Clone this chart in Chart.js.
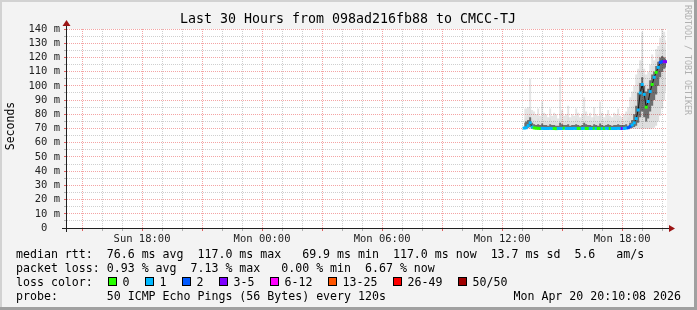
<!DOCTYPE html>
<html>
<head>
<meta charset="utf-8">
<script src="https://cdn.jsdelivr.net/npm/chart.js@4.4.1/dist/chart.umd.min.js"></script>
<style>
  html, body { margin: 0; padding: 0; background: #f3f3f3; }
  canvas { display: block; }
</style>
</head>
<body>
<canvas id="rtt" width="697" height="310"></canvas>
<script>
// x values are hours counted from Mon 00:00, one sample every 6 minutes
const hours = [
  13.1, 13.2, 13.3, 13.4, 13.5, 13.6, 13.7, 13.8, 13.9, 14.0,
  14.1, 14.2, 14.3, 14.4, 14.5, 14.6, 14.7, 14.8, 14.9, 15.0,
  15.1, 15.2, 15.3, 15.4, 15.5, 15.6, 15.7, 15.8, 15.9, 16.0,
  16.1, 16.2, 16.3, 16.4, 16.5, 16.6, 16.7, 16.8, 16.9, 17.0,
  17.1, 17.2, 17.3, 17.4, 17.5, 17.6, 17.7, 17.8, 17.9, 18.0,
  18.1, 18.2, 18.3, 18.4, 18.5, 18.6, 18.7, 18.8, 18.9, 19.0,
  19.1, 19.2, 19.3, 19.4, 19.5, 19.6, 19.7, 19.8, 19.9, 20.0,
  20.1, 20.2
];

// median rtt in ms
const median = [
  70.3, 70.5, 72, 74, 71, 70.4, 70.2, 70.1, 70, 70.1,
  70, 70, 70, 70.1, 70, 70, 69.9, 70, 70, 70,
  70.2, 70, 70, 70, 70, 70.1, 70, 70, 70, 70,
  70.1, 70, 70, 70, 70, 70.1, 70, 70, 70, 70,
  70, 70.1, 70, 70, 70, 70, 70, 70.1, 70, 70,
  70, 70.3, 70.5, 71.5, 72.5, 74, 77, 83, 95, 101,
  94, 85, 89, 96, 101, 106, 109.5, 113, 116.5, 117,
  117, 117
];

// lost pings out of 50
const loss = [
  1, 1, 1, 1, 1, 0, 0, 0, 0, 1,
  1, 1, 1, 1, 1, 0, 0, 1, 1, 1,
  0, 1, 1, 1, 1, 1, 1, 0, 0, 1,
  1, 0, 0, 1, 1, 0, 1, 0, 0, 1,
  0, 1, 1, 0, 1, 1, 1, 1, 1, 3,
  1, 1, 2, 2, 1, 1, 1, 1, 1, 1,
  1, 0, 1, 1, 0, 1, 0, 1, 2, 2,
  3, 3
];

// smoke: spread of the single pings (max, 90th pct, 75th pct, 25th pct, min)
const smokeMax = [
  84, 84, 85, 105, 83, 82, 80, 84, 79, 89,
  81, 80, 78, 84, 79, 81, 80, 77, 106, 83,
  79, 80, 86, 78, 80, 79, 84, 81, 78, 80,
  92, 82, 79, 81, 78, 85, 80, 79, 89, 81,
  78, 80, 83, 79, 78, 81, 80, 84, 79, 78,
  80, 82, 85, 92, 96, 100, 108, 112, 118, 138,
  112, 108, 110, 115, 122, 118, 126, 128, 134, 140,
  138, 132
];
const smokeP90 = [
  77, 78, 79, 84, 77, 76, 75, 77, 75, 78,
  76, 75, 74.5, 77, 75, 76, 75, 74, 80, 77,
  75, 75, 78, 74.5, 75, 75, 77, 76, 74.5, 75,
  79, 76, 75, 76, 74.5, 78, 75, 75, 79, 76,
  74.5, 75, 77, 75, 74.5, 76, 75, 77, 75, 74.5,
  75, 76, 78, 82, 86, 90, 96, 103, 110, 118,
  108, 102, 104, 109, 114, 114, 119, 122, 126, 128,
  127, 125
];
const smokeHigh = [
  74, 75, 76, 78, 74, 73, 72.5, 73, 72.5, 73.5,
  72.5, 72.5, 72, 73, 72.5, 72.5, 72, 72, 74, 73,
  72.5, 72.5, 73, 72, 72.5, 72.5, 73, 72.5, 72, 72.5,
  74, 73, 72.5, 72.5, 72, 73, 72.5, 72, 73.5, 72.5,
  72, 72.5, 73, 72.5, 72, 72.5, 72.5, 73, 72.5, 72.5,
  72.5, 73, 72, 74, 76, 80, 86, 95, 102, 106,
  100, 96, 98, 104, 108, 110, 114, 117, 120, 121,
  120, 119
];
const smokeLow = [
  70, 70, 70.5, 71, 70, 70, 70, 70, 70, 70,
  70, 70, 70, 70, 70, 70, 70, 70, 70, 70,
  70, 70, 70, 70, 70, 70, 70, 70, 70, 70,
  70, 70, 70, 70, 70, 70, 70, 70, 70, 70,
  70, 70, 70, 70, 70, 70, 70, 70, 70, 70,
  70, 70, 70, 70, 70.5, 71, 72, 74, 78, 82,
  78, 75, 77, 82, 86, 90, 94, 100, 106, 110,
  112, 113
];
const smokeMin = [
  69.8, 69.8, 69.8, 69.8, 69.8, 69.8, 69.8, 69.8, 69.8, 69.8,
  69.8, 69.8, 69.8, 69.8, 69.8, 69.8, 69.8, 69.8, 69.8, 69.8,
  69.8, 69.8, 69.8, 69.8, 69.8, 69.8, 69.8, 69.8, 69.8, 69.8,
  69.8, 69.8, 69.8, 69.8, 69.8, 69.8, 69.8, 69.8, 69.8, 69.8,
  69.8, 69.8, 69.8, 69.8, 69.8, 69.8, 69.8, 69.8, 69.8, 69.8,
  69.8, 69.8, 69.9, 69.9, 69.9, 69.9, 69.9, 69.9, 69.9, 69.9,
  69.9, 69.9, 69.9, 69.9, 70, 70.5, 72, 75, 79, 84,
  90, 96
];

const tickHours = [-6, 0, 6, 12, 18];
const tickLabels = ['Sun 18:00', 'Mon 00:00', 'Mon 06:00', 'Mon 12:00', 'Mon 18:00'];

const lossLabels = ['0', '1', '2', '3-5', '6-12', '13-25', '26-49', '50/50'];
const lossUpper = [0, 1, 2, 5, 12, 25, 49, 50];
const lossColors = ['#26ff00', '#00b8ff', '#0059ff', '#7e00ff', '#ff00ff', '#ff5500', '#ff0000', '#a00000'];

const titleText = 'Last 30 Hours from 098ad216fb88 to CMCC-TJ';
const legendRows = [
  'median rtt:  76.6 ms avg  117.0 ms max   69.9 ms min  117.0 ms now  13.7 ms sd  5.6   am/s',
  'packet loss: 0.93 % avg  7.13 % max   0.00 % min  6.67 % now',
  'loss color:',
  'probe:       50 ICMP Echo Pings (56 Bytes) every 120s'
];
const stampText = 'Mon Apr 20 20:10:08 2026';

function lossColor(n) {
  for (let i = 0; i < lossUpper.length; i++) {
    if (n <= lossUpper[i]) return lossColors[i];
  }
  return lossColors[lossColors.length - 1];
}

function pts(arr) {
  return hours.map((h, i) => ({ x: h, y: arr[i] }));
}

const MONO = '"DejaVu Sans Mono", monospace';
const PINK = '#f4a4a4';
const GREY = '#cfcfcf';

const rrdLook = {
  id: 'rrdLook',
  beforeDraw(chart) {
    const { ctx, width, height, chartArea: a } = chart;
    ctx.save();
    ctx.fillStyle = '#f3f3f3';
    ctx.fillRect(0, 0, width, height);
    ctx.fillStyle = '#d2d2d2';
    ctx.fillRect(0, 0, width, 2);
    ctx.fillRect(0, 0, 2, height);
    ctx.fillStyle = '#a0a0a0';
    ctx.fillRect(0, height - 3, width, 3);
    ctx.fillRect(width - 3, 0, 3, height);
    ctx.fillStyle = '#ffffff';
    ctx.fillRect(a.left, a.top, a.right - a.left, a.bottom - a.top);
    ctx.restore();
  },
  afterDatasetsDraw(chart) {
    const { ctx, chartArea: a } = chart;
    ctx.save();
    // axes
    ctx.fillStyle = '#202020';
    ctx.fillRect(a.left - 5, a.bottom, a.right - a.left + 8, 1);
    ctx.fillRect(a.left - 1, a.top - 4, 1, a.bottom - a.top + 8);
    // arrows
    ctx.fillStyle = '#9b1414';
    ctx.beginPath();
    ctx.moveTo(a.right + 2, a.bottom - 3);
    ctx.lineTo(a.right + 8, a.bottom + 0.5);
    ctx.lineTo(a.right + 2, a.bottom + 4);
    ctx.closePath();
    ctx.fill();
    ctx.beginPath();
    ctx.moveTo(a.left - 4.5, a.top - 3);
    ctx.lineTo(a.left - 0.5, a.top - 9);
    ctx.lineTo(a.left + 3.5, a.top - 3);
    ctx.closePath();
    ctx.fill();
    ctx.restore();
  },
  afterDraw(chart) {
    const { ctx, width } = chart;
    ctx.save();
    ctx.fillStyle = '#000';
    ctx.textBaseline = 'alphabetic';

    ctx.font = '13.3px ' + MONO;
    ctx.textAlign = 'center';
    ctx.fillText(titleText, 348, 23);

    ctx.font = '11.5px ' + MONO;
    ctx.save();
    ctx.translate(14, 126);
    ctx.rotate(-Math.PI / 2);
    ctx.fillText('Seconds', 0, 0);
    ctx.restore();

    ctx.save();
    ctx.fillStyle = '#b0b0b0';
    ctx.font = '8.3px ' + MONO;
    ctx.textAlign = 'left';
    ctx.translate(685, 5);
    ctx.rotate(Math.PI / 2);
    ctx.fillText('RRDTOOL / TOBI OETIKER', 0, 0);
    ctx.restore();

    ctx.font = '11.6px ' + MONO;
    ctx.textAlign = 'left';
    legendRows.forEach((row, i) => ctx.fillText(row, 16, 258 + i * 14));
    ctx.textAlign = 'right';
    ctx.fillText(stampText, width - 16, 300);

    const boxX = [108.5, 145.5, 182.5, 219.5, 270.5, 328.5, 393.5, 458.5];
    ctx.textAlign = 'left';
    ctx.lineWidth = 1;
    ctx.strokeStyle = '#000';
    lossLabels.forEach((lab, i) => {
      ctx.fillStyle = lossColors[i];
      ctx.fillRect(boxX[i], 277.5, 8, 8);
      ctx.strokeRect(boxX[i], 277.5, 8, 8);
      ctx.fillStyle = '#000';
      ctx.fillText(lab, boxX[i] + 14, 286);
    });
    ctx.restore();
  }
};

const band = (arr, fill, color) => ({
  data: pts(arr),
  borderWidth: 0,
  pointRadius: 0,
  stepped: 'middle',
  fill: fill,
  backgroundColor: color
});

new Chart(document.getElementById('rtt'), {
  type: 'line',
  data: {
    datasets: [
      {
        data: pts(median),
        borderColor: 'rgba(0,0,0,0.8)',
        borderWidth: 1,
        pointStyle: 'rect',
        pointRadius: 2.1,
        pointBorderWidth: 0,
        pointBackgroundColor: loss.map(lossColor),
        fill: false
      },
      band(smokeMax, 2, 'rgba(0,0,0,0.1)'),
      band(smokeP90, 5, 'rgba(0,0,0,0.13)'),
      band(smokeHigh, '+1', 'rgba(0,0,0,0.5)'),
      band(smokeLow, false, 'transparent'),
      band(smokeMin, false, 'transparent')
    ]
  },
  options: {
    responsive: false,
    animation: false,
    devicePixelRatio: 1,
    events: [],
    layout: { padding: { left: 0, right: 30, top: 29, bottom: 62 } },
    plugins: { legend: { display: false }, tooltip: { enabled: false }, title: { display: false } },
    scales: {
      x: {
        type: 'linear',
        min: -9.75,
        max: 20.24,
        afterFit(s) { s.height = 20; },
        border: { display: false, dash: [1, 1] },
        grid: {
          color: (c) => (c.tick.value % 3 === 0 ? PINK : GREY),
          tickColor: (c) => (c.tick.value % 3 === 0 ? '#e06060' : '#b0b0b0'),
          tickLength: 3
        },
        ticks: {
          stepSize: 1,
          includeBounds: false,
          autoSkip: false,
          maxRotation: 0,
          padding: 2,
          color: '#222',
          font: { family: MONO, size: 10.5 },
          callback: (v) => {
            const k = tickHours.indexOf(v);
            return k >= 0 ? tickLabels[k] : '';
          }
        }
      },
      y: {
        min: 0,
        max: 140,
        afterFit(s) { s.width = 67; },
        border: { display: false, dash: [1, 1] },
        grid: {
          color: (c) => (c.tick.value % 10 === 0 ? PINK : GREY),
          tickColor: (c) => (c.tick.value % 10 === 0 ? '#e06060' : '#b0b0b0'),
          tickLength: 3
        },
        ticks: {
          stepSize: 5,
          autoSkip: false,
          padding: 4,
          color: '#222',
          font: { family: MONO, size: 10.5 },
          callback: (v) => (v % 10 !== 0 ? '' : v === 0 ? '0  ' : v + ' m')
        }
      }
    }
  },
  plugins: [rrdLook]
});
</script>
</body>
</html>
